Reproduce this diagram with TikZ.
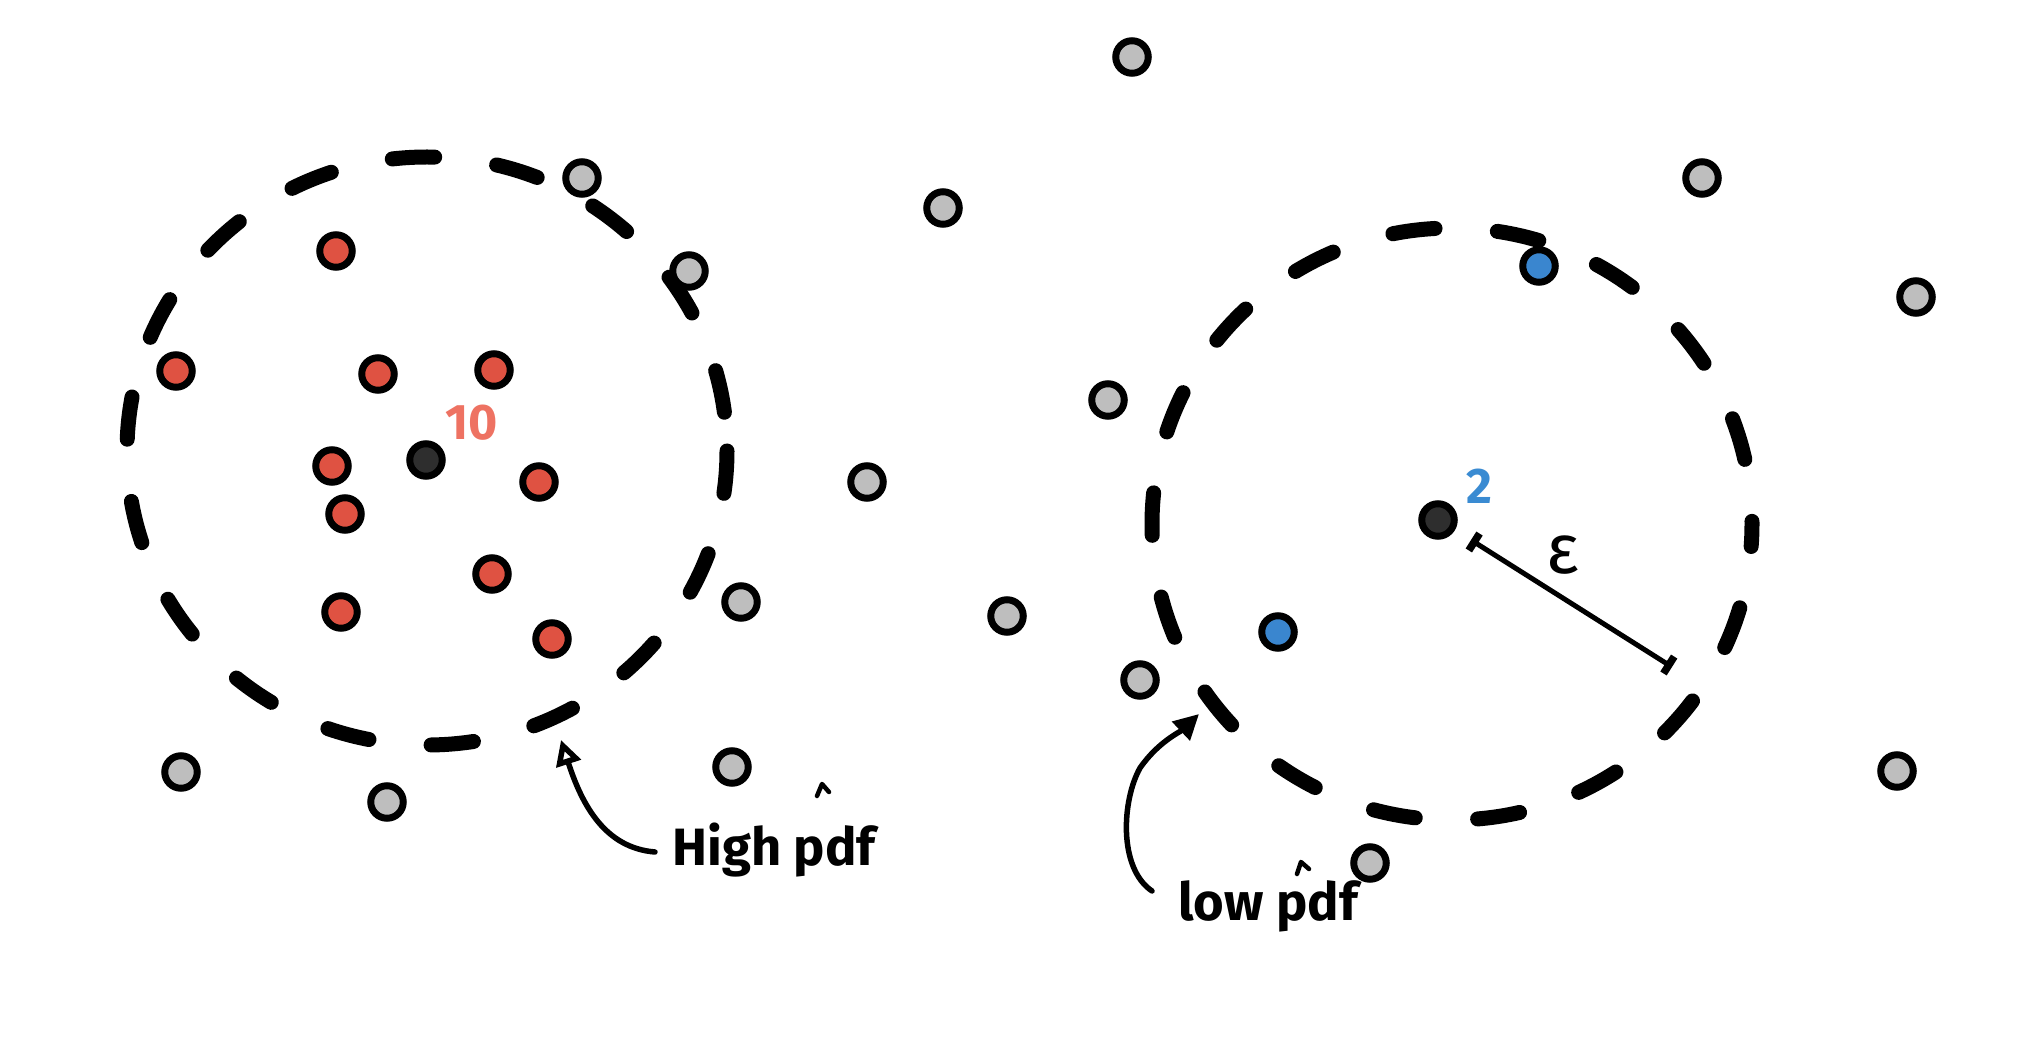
\documentclass[tikz,border=0pt]{standalone}
\usepackage{fontspec}
\setmainfont{Fira Sans}
\usetikzlibrary{arrows.meta}
\definecolor{dotred}{HTML}{DF5242}
\definecolor{dotgray}{HTML}{BEBEBE}
\definecolor{dotblue}{HTML}{3A86CF}
\definecolor{dotdark}{HTML}{2E2E2E}
\definecolor{lblred}{HTML}{EE7262}
\definecolor{lblblue}{HTML}{3A8BD2}
\begin{document}
\begin{tikzpicture}[x=0.4pt,y=-0.4pt,
  dot/.style={circle,draw=black,line width=2.8pt,minimum size=13pt,inner sep=0pt},
  reddot/.style={dot,fill=dotred},
  graydot/.style={dot,fill=dotgray},
  bluedot/.style={dot,fill=dotblue},
  darkdot/.style={dot,fill=dotdark},
  region/.style={draw=black,line width=6pt,line cap=round,dash pattern=on 17pt off 25pt},
  note/.style={font=\fontsize{21}{25}\selectfont\bfseries,inner sep=0pt},
  pointer/.style={draw=black,line width=2.2pt,line cap=round,-{Triangle[open,length=10pt,width=10pt,line width=2.2pt]}},
  caret/.style={draw=black,line width=1.8pt,line cap=round,line join=round}
]
\useasboundingbox (0,0) rectangle (2042,1045);
\fill[white] (0,0) rectangle (2042,1045);

% dashed neighbourhoods
\draw[region] (427,451) ellipse [x radius=300, y radius=294];
\draw[region,dash phase=8pt] (1452,524) ellipse [x radius=300, y radius=296];

% left cluster
\node[reddot] (r1) at (336,251) {};
\node[reddot] (r2) at (176,371) {};
\node[reddot] (r3) at (378,374) {};
\node[reddot] (r4) at (494,370) {};
\node[reddot] (r5) at (332,466) {};
\node[reddot] (r6) at (539,482) {};
\node[reddot] (r7) at (345,514) {};
\node[reddot] (r8) at (492,574) {};
\node[reddot] (r9) at (341,612) {};
\node[reddot] (r10) at (552,639) {};
\node[darkdot] (cl) at (426,460) {};
\node[font=\fontsize{20}{24}\selectfont\bfseries,text=lblred,inner sep=0pt] (ten) at (472,423) {10};

% gray points
\node[graydot] (g1) at (582,178) {};
\node[graydot] (g2) at (689,271) {};
\node[graydot] (g3) at (741,602) {};
\node[graydot] (g4) at (181,772) {};
\node[graydot] (g5) at (387,802) {};
\node[graydot] (g6) at (732,767) {};
\node[graydot] (g7) at (943,208) {};
\node[graydot] (g8) at (1132,57) {};
\node[graydot] (g9) at (867,482) {};
\node[graydot] (g10) at (1007,616) {};
\node[graydot] (g11) at (1108,400) {};
\node[graydot] (g12) at (1140,680) {};
\node[graydot] (g13) at (1702,178) {};
\node[graydot] (g14) at (1916,297) {};
\node[graydot] (g15) at (1897,771) {};
\node[graydot] (g16) at (1370,863) {};

% right cluster
\node[bluedot] (b1) at (1539,266) {};
\node[bluedot] (b2) at (1278,632) {};
\node[darkdot] (cr) at (1438,520) {};
\node[font=\fontsize{20}{24}\selectfont\bfseries,text=lblblue,inner sep=0pt] (two) at (1479,486) {2};

% epsilon radius
\coordinate (ea) at (1471,540);
\coordinate (eb) at (1672,667);
\draw[line width=2pt,{Bar[width=8pt,line width=3pt]}-{Bar[width=8pt,line width=3pt]}] (ea) -- (eb);
\node[font=\fontsize{28}{32}\selectfont,inner sep=0pt] (eps) at (1563,555) {ε};

% high pdf
\node[note,anchor=west] (high) at (672,850) {High pdf};
\coordinate (hs) at (655,852);
\coordinate (hp) at (561,740);
\draw[pointer] (hs) .. controls (605,848) and (582,805) .. (hp);
\draw[caret] (817,796) -- (822,784) -- (829,792);

% low pdf
\node[note,anchor=west] (low) at (1178,906) {low pdf};
\coordinate (ls) at (1152,891);
\coordinate (lp) at (1199,714);
\draw[pointer,-{Triangle[length=10pt,width=10pt]}] (ls) .. controls (1118,868) and (1122,800) .. (1140,768) .. controls (1158,742) and (1180,732) .. (lp);
\draw[caret] (1297,874) -- (1301,862) -- (1309,869);
\end{tikzpicture}
\end{document}
